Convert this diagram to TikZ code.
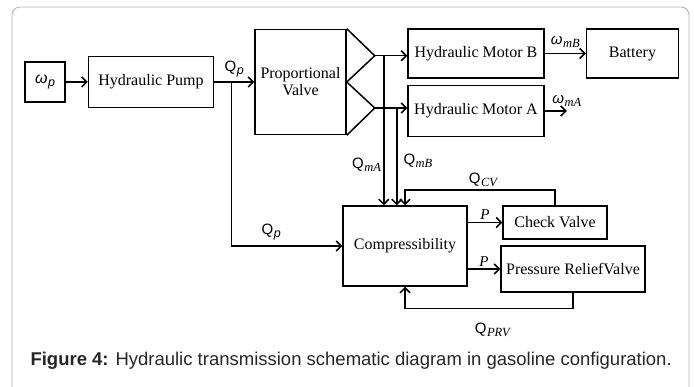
\documentclass[tikz,border=0pt]{standalone}
\usepackage{fontspec}
\setmainfont{Liberation Serif}
\setsansfont{Liberation Sans}
\usetikzlibrary{positioning, arrows.meta, calc}

\newcommand{\subtext}[1]{\raisebox{-3pt}{\fontsize{12.5}{13}\selectfont\itshape #1}}
\newcommand{\flowlab}[1]{\textsf{Q}\kern0.5pt\subtext{#1}}
\newcommand{\speedlab}[1]{\textsf{\textit{ω}}\kern0.5pt\subtext{#1}}

\begin{document}
\begin{tikzpicture}[x=1pt, y=-1pt, node distance=20pt,
  every node/.style={font=\fontsize{16}{17}\selectfont},
  block/.style={rectangle, draw, line width=1.5pt, inner sep=2pt, align=center},
  lab/.style={font=\fontsize{15}{16}\selectfont, inner sep=1pt},
  arrow/.style={-{Straight Barb[length=5pt, width=10pt, line width=1.5pt]}, line width=1.5pt},
  wire/.style={line width=1.5pt}
]
\useasboundingbox (0,0) rectangle (694,387);
\draw[gray!60, line width=0.8pt, rounded corners=8pt] (12,400) -- (12,7) -- (689,7) -- (689,400);

% Blocks
\node[block, minimum width=40pt, minimum height=40pt] (wp) at (45,82) {\speedlab{\textsf{p}}};
\node[block, minimum width=125pt, minimum height=51pt, right=22pt of wp] (pump) {Hydraulic Pump};
\node[block, minimum width=91pt, minimum height=105pt, right=40pt of pump] (valve) {Proportional\\Valve};
\node[block, minimum width=136pt, minimum height=49pt] (motB) at (476,53.5) {Hydraulic Motor B};
\node[block, minimum width=92pt, minimum height=49pt, right=41pt of motB] (bat) {Battery};
\node[block, minimum width=136pt, minimum height=51pt, below=6pt of motB] (motA) {Hydraulic Motor A};
\node[block, minimum width=124pt, minimum height=80pt] (comp) at (405,246) {Compressibility};
\node[block, minimum width=104pt, minimum height=33pt] (check) at (555,222.5) {Check Valve};
\node[block, minimum width=144pt, minimum height=46pt] (prv) at (573,269) {Pressure ReliefValve};

% Valve outlets
\draw[wire, line join=miter] (valve.north east) -- ++(28,27) coordinate (apB)
  -- (valve.east) -- ++(28,26) coordinate (apA) -- (valve.south east);
\coordinate (tap) at ($(pump.east)!0.425!(valve.west)$);
\coordinate (tapB) at ($(apB)+(9,0)$);
\coordinate (tapA) at ($(apA)+(22,0)$);

% Arrows
\draw[arrow] (wp) -- (pump);
\draw[arrow] (pump) -- node[lab, above=3pt] {\flowlab{\textsf{p}}} (valve);
\draw[arrow] (apB) -- (apB -| motB.west);
\draw[arrow] (apA) -- (apA -| motA.west);
\draw[arrow] (motB) -- node[lab, above=4pt] {\speedlab{mB}} (bat);
\draw[arrow] (motA.east) -- ++(22,0) node[lab, above=3pt] {\speedlab{mA}};
\draw[arrow] (tapB) -- node[lab, left=1pt, pos=0.73] {\flowlab{mA}} (tapB |- comp.north);
\draw[arrow] (tapA) -- node[lab, right=5pt, pos=0.54] {\flowlab{mB}} (tapA |- comp.north);
\draw[arrow] (tap) |- node[lab, above=4pt, pos=0.68] {\flowlab{\textsf{p}}} (comp.west);
\draw[arrow] (comp.east |- check.west) -- node[lab, above=1pt] {\textit{P}} (check.west);
\draw[arrow] (comp.east |- prv.west) -- node[lab, above=1pt] {\textit{P}} (prv.west);
\draw[arrow] (check.north) -- ++(0,-15) -| node[lab, above=2pt, pos=0.24] {\flowlab{CV}} (comp.north);
\draw[arrow] (prv.south) -- ++(0,16) -| node[lab, below=13pt, pos=0.24] {\flowlab{PRV}} (comp.south);

% Caption
\node[anchor=west, text=black!85, font=\sffamily\fontsize{18.5}{20}\selectfont] (caption) at (27,361)
  {\textbf{Figure 4:} Hydraulic transmission schematic diagram in gasoline configuration.};

\end{tikzpicture}
\end{document}
